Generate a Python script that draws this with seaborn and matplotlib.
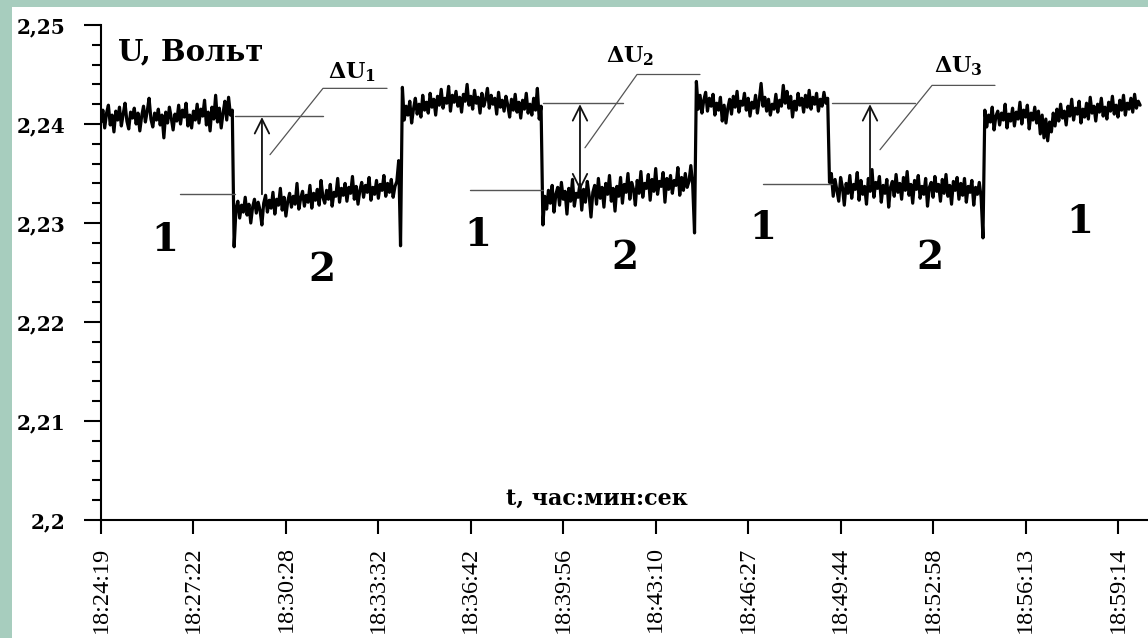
import matplotlib
matplotlib.use("Agg")
import matplotlib.pyplot as plt
from matplotlib.patches import Rectangle
from matplotlib.ticker import MultipleLocator
import numpy as np
import pandas as pd
import seaborn as sns

# time axis labels, one every 50 samples
time_labels = ["18:24:19", "18:27:22", "18:30:28", "18:33:32", "18:36:42", "18:39:56",
               "18:43:10", "18:46:27", "18:49:44", "18:52:58", "18:56:13", "18:59:14"]
SAMPLES_PER_TICK = 50

y_ticks = [2.2, 2.21, 2.22, 2.23, 2.24, 2.25]
y_tick_labels = ["2,2", "2,21", "2,22", "2,23", "2,24", "2,25"]

# voltage samples (mode 1 / mode 2 alternating)
seg1 = [2.2402, 2.2414, 2.2396, 2.2411, 2.2419, 2.2399, 2.2409, 2.2392, 2.2413, 2.2404,
        2.2417, 2.2398, 2.2410, 2.2421, 2.2403, 2.2395, 2.2412, 2.2406, 2.2416, 2.2400,
        2.2411, 2.2393, 2.2408, 2.2418, 2.2402, 2.2413, 2.2426, 2.2405, 2.2397, 2.2411,
        2.2404, 2.2415, 2.2399, 2.2409, 2.2386, 2.2412, 2.2401, 2.2417, 2.2406, 2.2394,
        2.2410, 2.2403, 2.2419, 2.2400, 2.2414, 2.2407, 2.2421, 2.2398, 2.2409, 2.2396,
        2.2413, 2.2404, 2.2420, 2.2401, 2.2415, 2.2408, 2.2424, 2.2399, 2.2412, 2.2393,
        2.2417, 2.2405, 2.2429, 2.2402, 2.2416, 2.2396, 2.2411, 2.2423, 2.2404, 2.2427,
        2.2409, 2.2414]
seg2 = [2.2276, 2.2314, 2.2322, 2.2305, 2.2318, 2.2311, 2.2326, 2.2308, 2.2319, 2.2300,
        2.2316, 2.2324, 2.2310, 2.2321, 2.2313, 2.2298, 2.2320, 2.2328, 2.2311, 2.2323,
        2.2315, 2.2331, 2.2309, 2.2324, 2.2318, 2.2335, 2.2313, 2.2326, 2.2307, 2.2322,
        2.2330, 2.2316, 2.2327, 2.2319, 2.2340, 2.2314, 2.2325, 2.2332, 2.2317, 2.2328,
        2.2321, 2.2338, 2.2315, 2.2330, 2.2323, 2.2334, 2.2318, 2.2343, 2.2326, 2.2320,
        2.2333, 2.2324, 2.2339, 2.2317, 2.2331, 2.2327, 2.2345, 2.2321, 2.2335, 2.2328,
        2.2340, 2.2322, 2.2336, 2.2330, 2.2347, 2.2324, 2.2337, 2.2319, 2.2333, 2.2341,
        2.2326, 2.2338, 2.2331, 2.2346, 2.2323, 2.2336, 2.2329, 2.2343, 2.2325, 2.2339,
        2.2333, 2.2348, 2.2327, 2.2340, 2.2331, 2.2344, 2.2326, 2.2337, 2.2342, 2.2363]
seg3 = [2.2277, 2.2437, 2.2404, 2.2418, 2.2409, 2.2423, 2.2401, 2.2415, 2.2426, 2.2410,
        2.2420, 2.2407, 2.2429, 2.2414, 2.2422, 2.2411, 2.2431, 2.2417, 2.2425, 2.2409,
        2.2428, 2.2419, 2.2435, 2.2416, 2.2426, 2.2421, 2.2438, 2.2413, 2.2429, 2.2422,
        2.2433, 2.2418, 2.2427, 2.2412, 2.2430, 2.2423, 2.2440, 2.2419, 2.2428, 2.2415,
        2.2434, 2.2421, 2.2427, 2.2411, 2.2431, 2.2418, 2.2425, 2.2436, 2.2416, 2.2429,
        2.2420, 2.2426, 2.2410, 2.2432, 2.2417, 2.2424, 2.2413, 2.2428, 2.2419, 2.2407,
        2.2425, 2.2414, 2.2430, 2.2412, 2.2422, 2.2406, 2.2424, 2.2415, 2.2431, 2.2411,
        2.2420, 2.2409, 2.2426, 2.2414, 2.2436, 2.2405, 2.2418]
seg4 = [2.2298, 2.2327, 2.2314, 2.2333, 2.2320, 2.2338, 2.2311, 2.2329, 2.2336, 2.2318,
        2.2341, 2.2324, 2.2332, 2.2309, 2.2335, 2.2322, 2.2344, 2.2317, 2.2330, 2.2326,
        2.2339, 2.2313, 2.2334, 2.2321, 2.2342, 2.2328, 2.2306, 2.2331, 2.2338, 2.2319,
        2.2345, 2.2325, 2.2336, 2.2316, 2.2340, 2.2329, 2.2348, 2.2322, 2.2335, 2.2312,
        2.2337, 2.2327, 2.2346, 2.2320, 2.2339, 2.2331, 2.2350, 2.2324, 2.2341, 2.2334,
        2.2318, 2.2343, 2.2330, 2.2352, 2.2326, 2.2340, 2.2335, 2.2349, 2.2323, 2.2344,
        2.2332, 2.2355, 2.2329, 2.2342, 2.2337, 2.2351, 2.2321, 2.2345, 2.2334, 2.2348,
        2.2330, 2.2343, 2.2338, 2.2356, 2.2328, 2.2346, 2.2333, 2.2350, 2.2336, 2.2342,
        2.2358, 2.2339]
seg5 = [2.2290, 2.2443, 2.2415, 2.2429, 2.2411, 2.2424, 2.2432, 2.2413, 2.2426, 2.2418,
        2.2430, 2.2409, 2.2421, 2.2414, 2.2427, 2.2403, 2.2419, 2.2401, 2.2416, 2.2425,
        2.2410, 2.2428, 2.2417, 2.2433, 2.2412, 2.2423, 2.2419, 2.2431, 2.2414, 2.2426,
        2.2408, 2.2422, 2.2416, 2.2429, 2.2411, 2.2424, 2.2441, 2.2418, 2.2427, 2.2413,
        2.2425, 2.2409, 2.2420, 2.2415, 2.2430, 2.2412, 2.2424, 2.2418, 2.2439, 2.2421,
        2.2433, 2.2416, 2.2428, 2.2407, 2.2423, 2.2414, 2.2431, 2.2419, 2.2426, 2.2412,
        2.2429, 2.2417, 2.2434, 2.2415, 2.2427, 2.2420, 2.2431, 2.2413, 2.2425, 2.2418,
        2.2432, 2.2421, 2.2426]
seg6 = [2.2341, 2.2350, 2.2327, 2.2344, 2.2333, 2.2322, 2.2346, 2.2336, 2.2318, 2.2340,
        2.2330, 2.2348, 2.2325, 2.2339, 2.2334, 2.2351, 2.2323, 2.2343, 2.2329, 2.2337,
        2.2319, 2.2345, 2.2332, 2.2354, 2.2326, 2.2341, 2.2335, 2.2347, 2.2321, 2.2338,
        2.2330, 2.2344, 2.2316, 2.2336, 2.2342, 2.2327, 2.2349, 2.2331, 2.2340, 2.2324,
        2.2346, 2.2333, 2.2352, 2.2328, 2.2339, 2.2320, 2.2343, 2.2334, 2.2348, 2.2325,
        2.2337, 2.2329, 2.2345, 2.2317, 2.2336, 2.2341, 2.2326, 2.2347, 2.2332, 2.2339,
        2.2322, 2.2344, 2.2330, 2.2349, 2.2327, 2.2338, 2.2319, 2.2342, 2.2333, 2.2346,
        2.2324, 2.2340, 2.2328, 2.2345, 2.2321, 2.2337, 2.2331, 2.2343, 2.2318, 2.2336,
        2.2329, 2.2341, 2.2326]
seg7 = [2.2285, 2.2414, 2.2397, 2.2409, 2.2402, 2.2417, 2.2394, 2.2408, 2.2413, 2.2399,
        2.2411, 2.2404, 2.2420, 2.2396, 2.2410, 2.2403, 2.2416, 2.2398, 2.2412, 2.2405,
        2.2422, 2.2400, 2.2414, 2.2407, 2.2419, 2.2395, 2.2411, 2.2404, 2.2417, 2.2401,
        2.2413, 2.2390, 2.2409, 2.2386, 2.2405, 2.2383, 2.2402, 2.2392, 2.2411, 2.2398,
        2.2415, 2.2403, 2.2420, 2.2406, 2.2413, 2.2399, 2.2418, 2.2408, 2.2425, 2.2404,
        2.2416, 2.2410, 2.2423, 2.2401, 2.2415, 2.2407, 2.2421, 2.2405, 2.2427, 2.2411,
        2.2418, 2.2403, 2.2420, 2.2412, 2.2426, 2.2408, 2.2417, 2.2405, 2.2422, 2.2413,
        2.2428, 2.2410, 2.2419, 2.2407, 2.2424, 2.2414, 2.2429, 2.2409, 2.2421, 2.2415,
        2.2426, 2.2412, 2.2430, 2.2416, 2.2423, 2.2419]

# reference levels for the three ΔU markers
du_upper = [2.2408, 2.2421, 2.2421]
du_lower = [2.2329, 2.2333, 2.2339]
du_names = [r"$\mathbf{\Delta U_1}$", r"$\mathbf{\Delta U_2}$", r"$\mathbf{\Delta U_3}$"]
mode_labels = ["1", "2", "1", "2", "1", "2", "1"]

u = np.concatenate([seg1, seg2, seg3, seg4, seg5, seg6, seg7])
df = pd.DataFrame({"t": np.arange(len(u)) / SAMPLES_PER_TICK, "u": u})

sns.set_style("ticks")
plt.rcParams.update({
    "mathtext.fontset": "dejavuserif",
    "text.color": "black",
    "xtick.color": "black",
    "ytick.color": "black",
    "axes.edgecolor": "black",
})
SERIF = "DejaVu Serif"
GREY = "#555555"

fig = plt.figure(figsize=(11.48, 6.38), dpi=100, facecolor="#A7CDBE")
fig.patches.append(Rectangle((12 / 1148, 0), 1, 1 - 7 / 638, transform=fig.transFigure,
                             facecolor="white", edgecolor="none", zorder=-5))
ax = fig.add_axes([101 / 1148, 118 / 638, 1047 / 1148, 495 / 638])
ax.set_facecolor("white")

sns.lineplot(data=df, x="t", y="u", ax=ax, color="black", lw=2.3, estimator=None)

# ΔU markers: (upper x0, x1), (lower x0, x1), arrow x, leader points, label pos, style
layout = [
    ((1.449, 2.401), (0.855, 1.449), 1.741, [(1.828, 2.2369), (2.401, 2.2436), (3.094, 2.2436)], (2.715, 2.2452), "->"),
    ((4.781, 5.646), (3.991, 4.781), 5.181, [(5.235, 2.2376), (5.798, 2.2450), (6.479, 2.2450)], (5.722, 2.2468), "<->"),
    ((7.907, 8.805), (7.161, 7.907), 8.318, [(8.426, 2.2374), (8.989, 2.2439), (9.670, 2.2439)], (9.270, 2.2458), "->"),
]
for i, (up, lo, ax_x, leader, lab, style) in enumerate(layout):
    ax.plot(up, [du_upper[i]] * 2, color=GREY, lw=1.0)
    ax.plot(lo, [du_lower[i]] * 2, color=GREY, lw=1.0)
    lx, ly = zip(*leader)
    ax.plot(lx, ly, color=GREY, lw=0.9)
    ax.annotate("", xy=(ax_x, du_upper[i] - 0.0001), xytext=(ax_x, du_lower[i]),
                arrowprops=dict(arrowstyle=style, color="#111111", lw=1.3,
                                mutation_scale=26, shrinkA=0, shrinkB=0))
    ax.text(lab[0], lab[1], du_names[i], fontsize=16, ha="center", va="center")

mode_pos = [(0.692, 2.2283), (2.390, 2.2253), (4.078, 2.2288), (5.668, 2.2265),
            (7.161, 2.2295), (8.967, 2.2265), (10.590, 2.2301)]
for (mx, my), lab in zip(mode_pos, mode_labels):
    ax.text(mx, my, lab, family=SERIF, fontweight="bold", fontsize=28,
            ha="center", va="center")

ax.text(0.184, 2.2473, "U, Вольт", family=SERIF, fontweight="bold", fontsize=21,
        ha="left", va="center")
ax.text(5.365, 2.2021, "t, час:мин:сек", family=SERIF, fontweight="bold", fontsize=16,
        ha="center", va="center")

ax.set_xlim(0, 1047 / 92.45)
ax.set_ylim(2.2, 2.25)
ax.set_xticks(np.arange(len(time_labels)))
ax.set_xticklabels(time_labels, rotation=90, family="Liberation Serif", fontsize=17.5,
                   va="top", ha="center")
ax.set_yticks(y_ticks)
ax.set_yticklabels(y_tick_labels, family=SERIF, fontweight="bold", fontsize=14.5)
ax.yaxis.set_minor_locator(MultipleLocator(0.002))
ax.tick_params(axis="y", which="major", length=12.5, width=1.5, pad=13)
ax.tick_params(axis="y", which="minor", length=6.5, width=1.5)
ax.tick_params(axis="x", which="major", length=10, width=1.5, pad=9)
ax.set_xlabel("")
ax.set_ylabel("")
sns.despine(ax=ax)
for s in ("left", "bottom"):
    ax.spines[s].set_linewidth(1.5)

fig.savefig("out.png", dpi=100, facecolor=fig.get_facecolor())
